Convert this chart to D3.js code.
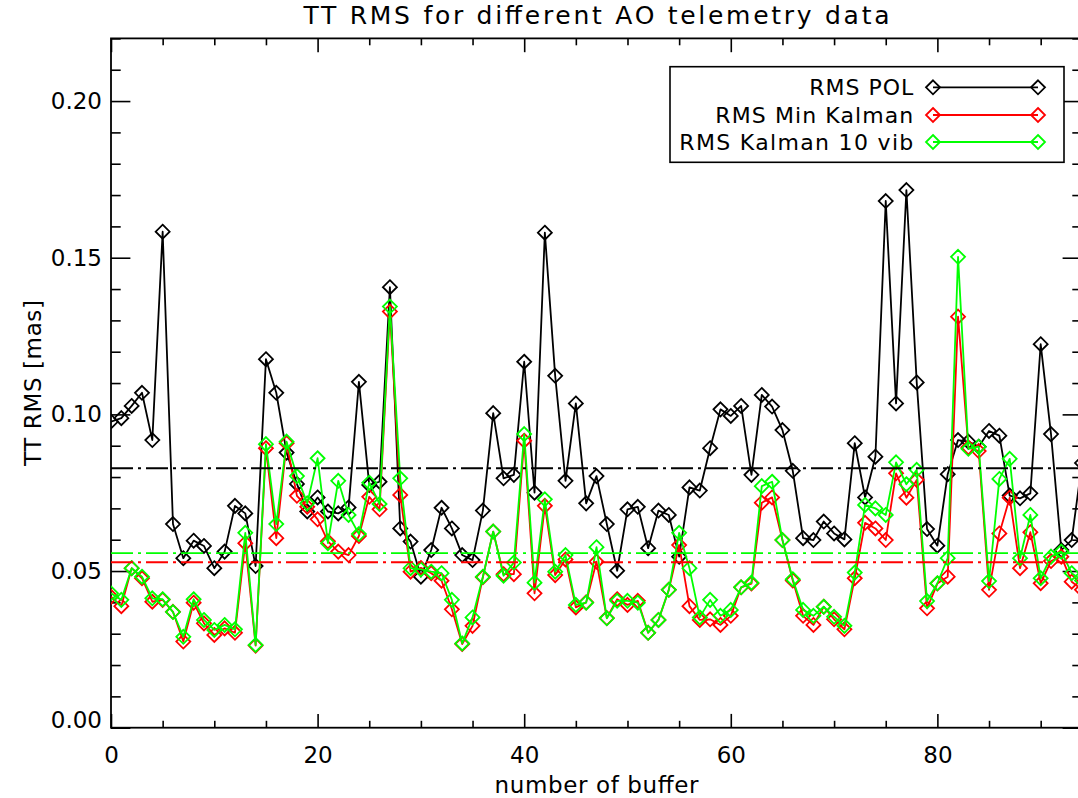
<!DOCTYPE html>
<html>
<head>
<meta charset="utf-8">
<script src="https://cdn.jsdelivr.net/npm/d3@7"></script>
<style>
  html, body { margin: 0; padding: 0; background: #fff; }
  svg { display: block; }
  text { font-family: "DejaVu Sans", sans-serif; fill: #000; }
</style>
</head>
<body>
<svg id="chart" width="1078" height="798"></svg>
<script>
// ---------- data ----------
const bufferIndex = d3.range(0, 95);

const rmsPOL = [
  0.0977, 0.0988, 0.1027, 0.1069, 0.0918, 0.1583, 0.0650, 0.0541, 0.0597, 0.0580,
  0.0509, 0.0562, 0.0708, 0.0684, 0.0516, 0.1176, 0.1069, 0.0878, 0.0778, 0.0690,
  0.0735, 0.0690, 0.0684, 0.0703, 0.1104, 0.0775, 0.0785, 0.1406, 0.0636, 0.0594,
  0.0482, 0.0567, 0.0702, 0.0636, 0.0551, 0.0535, 0.0693, 0.1004, 0.0796, 0.0807,
  0.1168, 0.0750, 0.1580, 0.1123, 0.0788, 0.1035, 0.0716, 0.0803, 0.0650, 0.0501,
  0.0697, 0.0705, 0.0573, 0.0693, 0.0679, 0.0546, 0.0767, 0.0757, 0.0892, 0.1016,
  0.0995, 0.1027, 0.0807, 0.1062, 0.1025, 0.0950, 0.0820, 0.0605, 0.0599, 0.0658,
  0.0620, 0.0601, 0.0908, 0.0735, 0.0865, 0.1681, 0.1035, 0.1716, 0.1102, 0.0634,
  0.0581, 0.0809, 0.0918, 0.0913, 0.0897, 0.0947, 0.0932, 0.0741, 0.0732, 0.0748,
  0.1224, 0.0937, 0.0567, 0.0599, 0.0845
];

const rmsMinKalman = [
  0.0418, 0.0388, 0.0509, 0.0477, 0.0402, 0.0408, 0.0370, 0.0275, 0.0399, 0.0333,
  0.0296, 0.0317, 0.0303, 0.0589, 0.0262, 0.0892, 0.0605, 0.0908, 0.0740, 0.0705,
  0.0665, 0.0595, 0.0562, 0.0551, 0.0612, 0.0737, 0.0697, 0.1328, 0.0743, 0.0498,
  0.0510, 0.0493, 0.0469, 0.0378, 0.0267, 0.0325, 0.0480, 0.0626, 0.0490, 0.0490,
  0.0916, 0.0429, 0.0708, 0.0487, 0.0537, 0.0384, 0.0400, 0.0530, 0.0350, 0.0410,
  0.0392, 0.0405, 0.0303, 0.0344, 0.0440, 0.0583, 0.0388, 0.0344, 0.0346, 0.0328,
  0.0357, 0.0448, 0.0460, 0.0718, 0.0735, 0.0599, 0.0470, 0.0357, 0.0328, 0.0386,
  0.0346, 0.0314, 0.0477, 0.0654, 0.0636, 0.0599, 0.0812, 0.0734, 0.0791, 0.0381,
  0.0460, 0.0482, 0.1312, 0.0895, 0.0883, 0.0440, 0.0620, 0.0734, 0.0509, 0.0624,
  0.0461, 0.0532, 0.0546, 0.0466, 0.0440
];

const rmsKalman10vib = [
  0.0429, 0.0408, 0.0509, 0.0482, 0.0413, 0.0410, 0.0369, 0.0290, 0.0410, 0.0344,
  0.0312, 0.0328, 0.0314, 0.0622, 0.0264, 0.0905, 0.0650, 0.0913, 0.0803, 0.0716,
  0.0860, 0.0589, 0.0788, 0.0679, 0.0618, 0.0782, 0.0714, 0.1344, 0.0796, 0.0509,
  0.0505, 0.0498, 0.0493, 0.0408, 0.0269, 0.0352, 0.0482, 0.0626, 0.0485, 0.0527,
  0.0937, 0.0463, 0.0729, 0.0498, 0.0551, 0.0392, 0.0399, 0.0576, 0.0349, 0.0405,
  0.0405, 0.0399, 0.0303, 0.0344, 0.0440, 0.0622, 0.0509, 0.0352, 0.0408, 0.0357,
  0.0376, 0.0448, 0.0463, 0.0771, 0.0785, 0.0599, 0.0474, 0.0376, 0.0357, 0.0386,
  0.0354, 0.0325, 0.0495, 0.0711, 0.0700, 0.0679, 0.0847, 0.0777, 0.0823, 0.0404,
  0.0461, 0.0541, 0.1503, 0.0890, 0.0897, 0.0468, 0.0794, 0.0858, 0.0541, 0.0679,
  0.0477, 0.0546, 0.0562, 0.0493, 0.0470
];

// mean levels (dash-dot lines)
const meanPOL = 0.0828;
const meanMinKalman = 0.0528;
const meanKalman10vib = 0.0557;

const seriesNames = ["RMS POL", "RMS Min Kalman", "RMS Kalman 10 vib"];
const seriesColors = ["#000000", "#ff0000", "#00ff00"];

const xMajorTicks = [0, 20, 40, 60, 80];
const yMajorTicks = [0.00, 0.05, 0.10, 0.15, 0.20];

const titleText = "TT RMS for different AO telemetry data";
const xLabelText = "number of buffer";
const yLabelText = "TT RMS [mas]";

// ---------- layout ----------
const L = 111, R = 1082, T = 38.4, B = 727.7;
const svg = d3.select("#chart");

const x = d3.scaleLinear().domain([0, 94]).range([L, R]);
const y = d3.scaleLinear().domain([0, 0.22]).range([B, T]);

const yMajLen = 19.4, yMinLen = 9.7, xMajLen = 13.8, xMinLen = 6.9;

const xMinor = d3.range(0, 95, 5).filter(v => v % 20 !== 0);
const yMinor = d3.range(0, 23).map(v => +(v * 0.01).toFixed(2)).filter(v => Math.round(v * 100) % 5 !== 0);

function styleAxis(g) {
  g.select(".domain").remove();
  g.selectAll(".tick line").attr("stroke", "#000").attr("stroke-width", 1.6);
  g.selectAll("text").style("font-size", "23px").style("font-family", "DejaVu Sans, sans-serif");
}

// bottom axis
svg.append("g").attr("transform", `translate(0,${B})`)
  .call(d3.axisBottom(x).tickValues(xMajorTicks).tickFormat(d3.format("d")).tickSize(-xMajLen).tickPadding(19))
  .call(styleAxis);
svg.append("g").attr("transform", `translate(0,${B})`)
  .call(d3.axisBottom(x).tickValues(xMinor).tickFormat("").tickSize(-xMinLen))
  .call(styleAxis);
// top axis
svg.append("g").attr("transform", `translate(0,${T})`)
  .call(d3.axisTop(x).tickValues(xMajorTicks).tickFormat("").tickSize(-xMajLen))
  .call(styleAxis);
svg.append("g").attr("transform", `translate(0,${T})`)
  .call(d3.axisTop(x).tickValues(xMinor).tickFormat("").tickSize(-xMinLen))
  .call(styleAxis);
// left axis
const yl = svg.append("g").attr("transform", `translate(${L},0)`)
  .call(d3.axisLeft(y).tickValues(yMajorTicks).tickFormat(d3.format(".2f")).tickSize(-yMajLen).tickPadding(9))
  .call(styleAxis);
yl.selectAll(".tick").filter(d => d === 0).select("text").attr("dy", "-0.03em");
svg.append("g").attr("transform", `translate(${L},0)`)
  .call(d3.axisLeft(y).tickValues(yMinor).tickFormat("").tickSize(-yMinLen))
  .call(styleAxis);
// right axis
svg.append("g").attr("transform", `translate(${R},0)`)
  .call(d3.axisRight(y).tickValues(yMajorTicks).tickFormat("").tickSize(-yMajLen))
  .call(styleAxis);
svg.append("g").attr("transform", `translate(${R},0)`)
  .call(d3.axisRight(y).tickValues(yMinor).tickFormat("").tickSize(-yMinLen))
  .call(styleAxis);

// frame
svg.append("rect").attr("x", L).attr("y", T).attr("width", R - L).attr("height", B - T)
  .attr("fill", "none").attr("stroke", "#000").attr("stroke-width", 1.8);

// clip
svg.append("defs").append("clipPath").attr("id", "plotclip")
  .append("rect").attr("x", L).attr("y", T).attr("width", R - L).attr("height", B - T);

const plot = svg.append("g").attr("clip-path", "url(#plotclip)");

const diamond = r => `M0,${-r}L${r},0L0,${r}L${-r},0Z`;
const DR = 7;

const allSeries = [rmsPOL, rmsMinKalman, rmsKalman10vib];
const means = [meanPOL, meanMinKalman, meanKalman10vib];

const line = d3.line().x((d, i) => x(bufferIndex[i])).y(d => y(d));

allSeries.forEach((vals, k) => {
  const g = plot.append("g");
  g.append("path").datum(vals).attr("d", line)
    .attr("fill", "none").attr("stroke", seriesColors[k]).attr("stroke-width", 1.8)
    .attr("stroke-linejoin", "round");
  g.selectAll("path.pt").data(vals).enter().append("path").attr("class", "pt")
    .attr("d", diamond(DR))
    .attr("transform", (d, i) => `translate(${x(bufferIndex[i])},${y(d)})`)
    .attr("fill", "none").attr("stroke", seriesColors[k]).attr("stroke-width", 1.8);
});

// dash-dot mean lines
means.forEach((m, k) => {
  plot.append("line").attr("x1", L).attr("x2", R).attr("y1", y(m)).attr("y2", y(m))
    .attr("stroke", seriesColors[k]).attr("stroke-width", 1.8)
    .attr("stroke-dasharray", "22,5,3,5");
});

// title and axis labels
svg.append("text").attr("x", (L + R) / 2).attr("y", 23.5).attr("text-anchor", "middle")
  .style("font-size", "25px").attr("textLength", 586).attr("lengthAdjust", "spacing").text(titleText);
svg.append("text").attr("x", (L + R) / 2).attr("y", 793).attr("text-anchor", "middle")
  .style("font-size", "23px").attr("textLength", 204).attr("lengthAdjust", "spacing").text(xLabelText);
svg.append("text").attr("transform", `translate(41,${(T + B) / 2}) rotate(-90)`).attr("text-anchor", "middle")
  .style("font-size", "23px").attr("textLength", 166).attr("lengthAdjust", "spacing").text(yLabelText);

// legend
const lg = svg.append("g");
lg.append("rect").attr("x", 670).attr("y", 66.7).attr("width", 1064 - 670).attr("height", 162.3 - 66.7)
  .attr("fill", "#fff").attr("stroke", "#000").attr("stroke-width", 1.6);
const legendRowsY = [87.3, 115, 142];
const legendWidths = [104, 198, 234];
seriesNames.forEach((name, k) => {
  const ry = legendRowsY[k];
  lg.append("text").attr("x", 913.3).attr("y", ry + 8).attr("text-anchor", "end")
    .style("font-size", "22px").attr("textLength", legendWidths[k]).attr("lengthAdjust", "spacing").text(name);
  lg.append("line").attr("x1", 933).attr("x2", 1038).attr("y1", ry).attr("y2", ry)
    .attr("stroke", seriesColors[k]).attr("stroke-width", 1.8);
  [933, 1038].forEach(px => {
    lg.append("path").attr("d", diamond(DR)).attr("transform", `translate(${px},${ry})`)
      .attr("fill", "none").attr("stroke", seriesColors[k]).attr("stroke-width", 1.8);
  });
});
</script>
</body>
</html>
